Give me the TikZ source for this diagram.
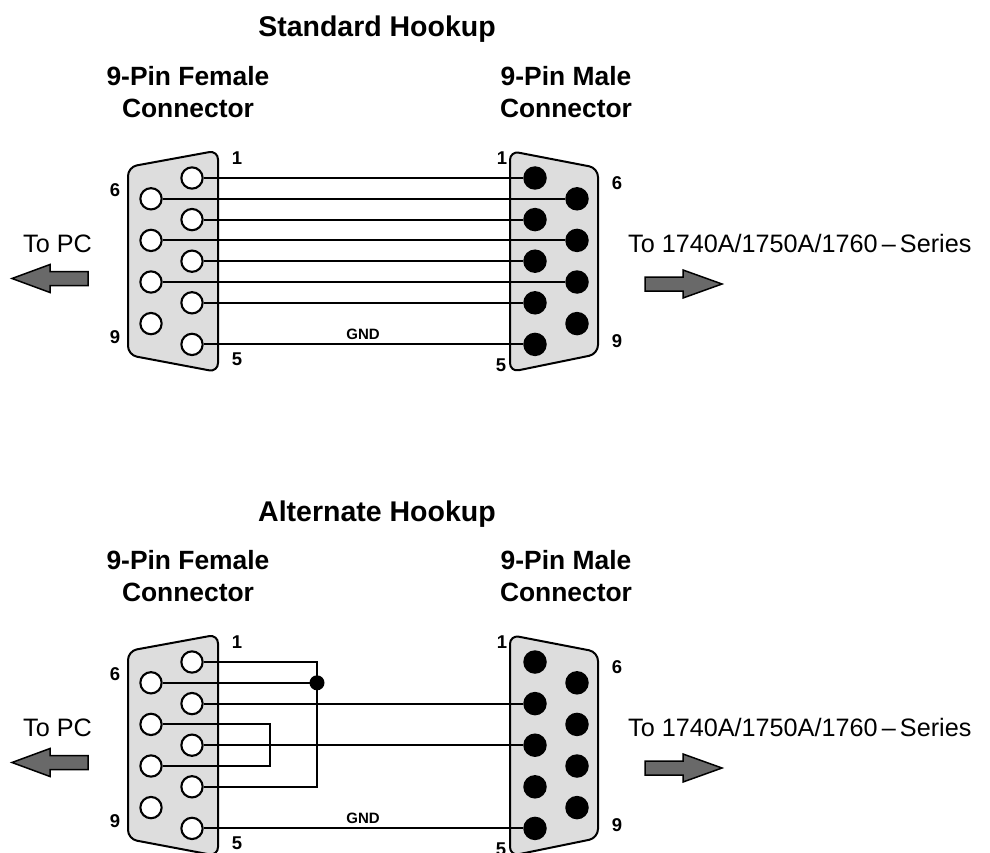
\documentclass[tikz,border=0pt]{standalone}
\usepackage{fontspec}
\setmainfont{Liberation Sans}
\definecolor{connfill}{RGB}{221,221,221}
\definecolor{arrowfill}{RGB}{105,105,105}
\newcommand\hookup[2]{%
  \node[title] (#1title) at (377,37) {#2};
  \node[clabel, anchor=north] (#1flabel) at (188,66) {9-Pin Female\\Connector};
  \node[clabel, anchor=north] (#1mlabel) at (566,66) {9-Pin Male\\Connector};
  % connector shells
  \draw[conn] (128,167) -- (218,150.5) -- (218,372) -- (128,355) -- cycle;
  \draw[conn] (510,151) -- (598,168) -- (598,354) -- (510,372) -- cycle;
  % pins
  \foreach \n/\r in {1/0,2/2,3/4,4/6,5/8} {
    \node[fpin] (#1f\n) at (192,{178+20.8*\r}) {};
    \node[mpin] (#1m\n) at (535,{178+20.8*\r}) {};
  }
  \foreach \n/\r in {6/1,7/3,8/5,9/7} {
    \node[fpin] (#1f\n) at (151,{178+20.8*\r}) {};
    \node[mpin] (#1m\n) at (577,{178+20.8*\r}) {};
  }
  % pin numbers
  \node[pnum] (#1fn1) at (237,158) {1};
  \node[pnum] (#1fn6) at (115,190) {6};
  \node[pnum] (#1fn9) at (115,337) {9};
  \node[pnum] (#1fn5) at (237,359) {5};
  \node[pnum] (#1mn1) at (502,158) {1};
  \node[pnum] (#1mn6) at (617,183) {6};
  \node[pnum] (#1mn9) at (617,341) {9};
  \node[pnum] (#1mn5) at (501,365) {5};
  % destinations
  \node[dest] (#1pc) at (23,252) {To PC};
  \node[dest] (#1dev) at (628,252) {To 1740A/1750A/1760\,–\,Series};
  \draw[bigarrow] (88,271.5) -- (50,271.5) -- (50,264.5) -- (12,278.5) -- (50,292.5) -- (50,285.5) -- (88,285.5) -- cycle;
  \draw[bigarrow] (645,277) -- (683,277) -- (683,270) -- (722,284) -- (683,298) -- (683,291) -- (645,291) -- cycle;
  % ground
  \node[gnd] (#1gnd) at (363,339) {GND};
  \draw[wire] (#1f5.east) -- (#1m5.west);
}
\begin{document}
\begin{tikzpicture}[x=1pt,y=-1pt,
  conn/.style={draw=black, line width=2pt, fill=connfill, rounded corners=9pt},
  fpin/.style={circle, draw=black, line width=2.1pt, fill=white, minimum size=21.3pt, inner sep=0pt},
  mpin/.style={circle, fill=black, minimum size=23.5pt, inner sep=0pt},
  wire/.style={line width=2.1pt},
  pnum/.style={font=\fontsize{18.5}{18.5}\selectfont\bfseries, inner sep=0pt},
  title/.style={font=\fontsize{28.5}{32}\selectfont\bfseries, inner sep=0pt, anchor=base},
  clabel/.style={font=\fontsize{26.4}{32}\selectfont\bfseries, align=center, inner sep=0pt},
  dest/.style={font=\fontsize{25.2}{28}\selectfont, inner sep=0pt, anchor=base west},
  bigarrow/.style={draw=black, line width=1.5pt, fill=arrowfill, line join=miter},
  gnd/.style={font=\fontsize{15}{15}\selectfont\bfseries, inner sep=0pt, anchor=base}
]
\useasboundingbox (0,0) rectangle (990,853);
% Standard hookup
\hookup{s}{Standard Hookup}
\foreach \n in {1,...,8} \draw[wire] (sf\n.east) -- (sm\n.west);
% Alternate hookup
\begin{scope}[yshift=-484pt]
  \hookup{a}{Alternate Hookup}
  \coordinate (aj) at (317,0 |- af6);
  \coordinate (ak) at (270,0 |- af7);
  \draw[wire] (af1.east) -| (aj) |- (af4.east);
  \draw[wire] (af6.east) -- (aj);
  \fill (aj) circle (7.5pt);
  \draw[wire] (af7.east) -| (ak) |- (af8.east);
  \draw[wire] (af2.east) -- (am2.west);
  \draw[wire] (af3.east) -- (am3.west);
\end{scope}
\end{tikzpicture}
\end{document}
